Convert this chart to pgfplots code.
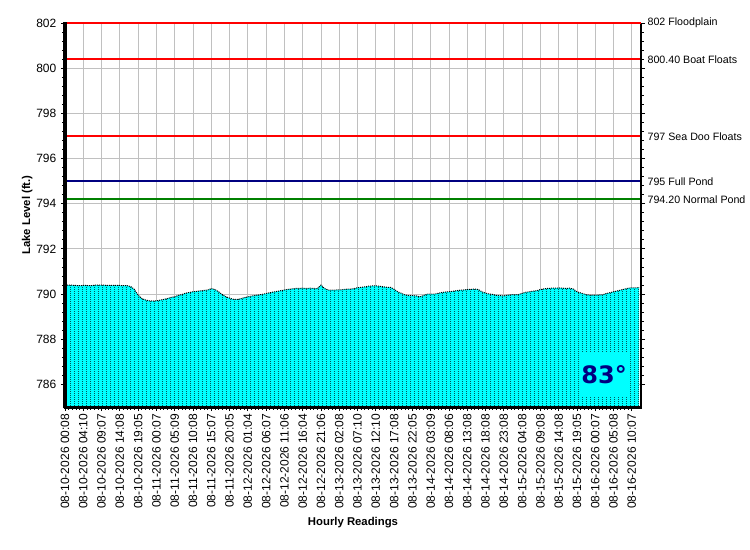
\documentclass[border=0pt]{standalone}
\usepackage{fontspec}
\setmainfont{Liberation Sans}
\newfontfamily\verd{DejaVu Sans}
\usepackage{pgfplots}
\pgfplotsset{compat=1.18}
\usepackage{pgfplotstable}
\usetikzlibrary{patterns}
\definecolor{gridgray}{RGB}{192,192,192}
\definecolor{navyb}{RGB}{0,0,128}
\definecolor{greenl}{RGB}{0,128,0}
\definecolor{aqua}{RGB}{0,255,255}
\definecolor{redl}{RGB}{255,0,0}
\pgfdeclarepatternformonly{coldots}{\pgfpointorigin}{\pgfpoint{2.745pt}{1.5pt}}{\pgfpoint{2.745pt}{1.5pt}}{%
  \pgfpathrectangle{\pgfpointorigin}{\pgfpoint{0.75pt}{0.75pt}}\pgfusepath{fill}}

\pgfplotstableread{
x y
0 790.40
1 790.40
2 790.39
3 790.38
4 790.37
5 790.38
6 790.38
7 790.37
8 790.39
9 790.40
10 790.40
11 790.39
12 790.38
13 790.38
14 790.38
15 790.38
16 790.37
17 790.37
18 790.33
19 790.20
20 789.95
21 789.80
22 789.74
23 789.70
24 789.69
25 789.70
26 789.73
27 789.76
28 789.80
29 789.85
30 789.88
31 789.94
32 789.98
33 790.04
34 790.07
35 790.10
36 790.12
37 790.14
38 790.16
39 790.18
40 790.24
41 790.20
42 790.10
43 789.98
44 789.88
45 789.82
46 789.77
47 789.76
48 789.79
49 789.84
50 789.88
51 789.91
52 789.94
53 789.96
54 789.99
55 790.02
56 790.06
57 790.09
58 790.12
59 790.15
60 790.18
61 790.21
62 790.23
63 790.25
64 790.25
65 790.26
66 790.25
67 790.26
68 790.25
69 790.24
70 790.40
71 790.24
72 790.18
73 790.17
74 790.18
75 790.18
76 790.20
77 790.22
78 790.22
79 790.24
80 790.28
81 790.30
82 790.32
83 790.35
84 790.36
85 790.36
86 790.35
87 790.32
88 790.30
89 790.30
90 790.21
91 790.10
92 790.03
93 789.96
94 789.93
95 789.93
96 789.92
97 789.88
98 789.93
99 790.00
100 790.00
101 790.00
102 790.03
103 790.07
104 790.09
105 790.10
106 790.12
107 790.15
108 790.17
109 790.18
110 790.20
111 790.21
112 790.22
113 790.20
114 790.10
115 790.04
116 790.00
117 789.98
118 789.94
119 789.93
120 789.92
121 789.95
122 789.97
123 789.97
124 789.98
125 790.03
126 790.08
127 790.10
128 790.13
129 790.15
130 790.20
131 790.23
132 790.25
133 790.26
134 790.26
135 790.27
136 790.26
137 790.25
138 790.26
139 790.22
140 790.10
141 790.05
142 790.00
143 789.96
144 789.95
145 789.95
146 789.96
147 789.97
148 790.02
149 790.06
150 790.10
151 790.14
152 790.18
153 790.22
154 790.26
155 790.28
156 790.27
157 790.29
}\lake

\begin{document}
\begin{tikzpicture}
\useasboundingbox (0,0) rectangle (562.5pt,-412.5pt);
\begin{axis}[
  at={(48.75pt,-17.25pt)}, anchor=north west,
  scale only axis, width=432pt, height=288pt,
  xmin=0, xmax=157.5, ymin=785, ymax=802,
  axis line style={draw=none},
  xtick={0,5,...,155},
  xticklabels={08-10-2026 00:08,08-10-2026 04:10,08-10-2026 09:07,08-10-2026 14:08,08-10-2026 19:05,08-11-2026 00:07,08-11-2026 05:09,08-11-2026 10:08,08-11-2026 15:07,08-11-2026 20:05,08-12-2026 01:04,08-12-2026 06:07,08-12-2026 11:06,08-12-2026 16:04,08-12-2026 21:06,08-13-2026 02:08,08-13-2026 07:10,08-13-2026 12:10,08-13-2026 17:08,08-13-2026 22:05,08-14-2026 03:09,08-14-2026 08:06,08-14-2026 13:08,08-14-2026 18:08,08-14-2026 23:08,08-15-2026 04:08,08-15-2026 09:08,08-15-2026 14:08,08-15-2026 19:05,08-16-2026 00:07,08-16-2026 05:08,08-16-2026 10:07},
  xticklabel style={rotate=90, anchor=east, font=\fontsize{9}{10}\selectfont, inner sep=2pt},
  ytick={786,788,...,802},
  yticklabel style={font=\fontsize{9}{10}\selectfont},
  /pgf/number format/assume math mode=true,
  /pgf/number format/.cd, 1000 sep={}, /pgfplots/.cd,
  minor x tick num=4, minor y tick num=4,
  tick align=outside,
  xtick pos=bottom, ytick pos=both,
  major tick length=3pt, minor tick length=2pt,
  tick style={black, line width=0.6pt},
  xmajorgrids, ymajorgrids,
  major grid style={gridgray, line width=0.75pt},
  xlabel={\bfseries Hourly Readings},
  ylabel={\bfseries Lake Level (ft.)},
  xlabel style={font=\fontsize{8.5}{10}\selectfont, yshift=-1pt},
  ylabel style={font=\fontsize{8.5}{10}\selectfont, yshift=-4pt},
  clip=false,
]
\addplot[fill=aqua, draw=none, postaction={pattern=coldots, pattern color=black}] table {\lake} |- (axis cs:0,785) -- cycle;
\addplot[black, line width=0.75pt, dash pattern=on 0.75pt off 0.75pt] table {\lake};
\addplot[redl, line width=1.5pt] coordinates {(0,800.4) (157.5,800.4)};
\addplot[redl, line width=1.5pt] coordinates {(0,797) (157.5,797)};
\addplot[navyb, line width=1pt] coordinates {(0,795) (157.5,795)};
\addplot[greenl, line width=1.1pt] coordinates {(0,794.2) (157.5,794.2)};
\draw[black, line width=1.5pt] (rel axis cs:1,0) -- (rel axis cs:1,1);
\addplot[redl, line width=1.8pt] coordinates {(0,802) (157.5,802)};
\draw[black, line width=2.25pt] ([yshift=-1.1pt]rel axis cs:0,0) -- ([yshift=0.9pt]rel axis cs:0,1);
\draw[black, line width=2.25pt] ([xshift=-1.1pt]rel axis cs:0,0) -- ([xshift=0.75pt]rel axis cs:1,0);
\node[fill=aqua, text=navyb, minimum width=36pt, minimum height=33pt, inner sep=0pt,
  font=\verd\bfseries\fontsize{18}{19}\selectfont] at (rel axis cs:0.936,0.083) {83°};
\end{axis}
\begin{scope}[every node/.style={anchor=west, font=\fontsize{8}{9}\selectfont, inner sep=0pt}]
\node at (485.5pt,-17.25pt) {802 Floodplain};
\node at (485.5pt,-44.96pt) {800.40 Boat Floats};
\node at (485.5pt,-102.6pt) {797 Sea Doo Floats};
\node at (485.5pt,-136.5pt) {795 Full Pond};
\node at (485.5pt,-150.0pt) {794.20 Normal Pond};
\end{scope}
\end{tikzpicture}
\end{document}
